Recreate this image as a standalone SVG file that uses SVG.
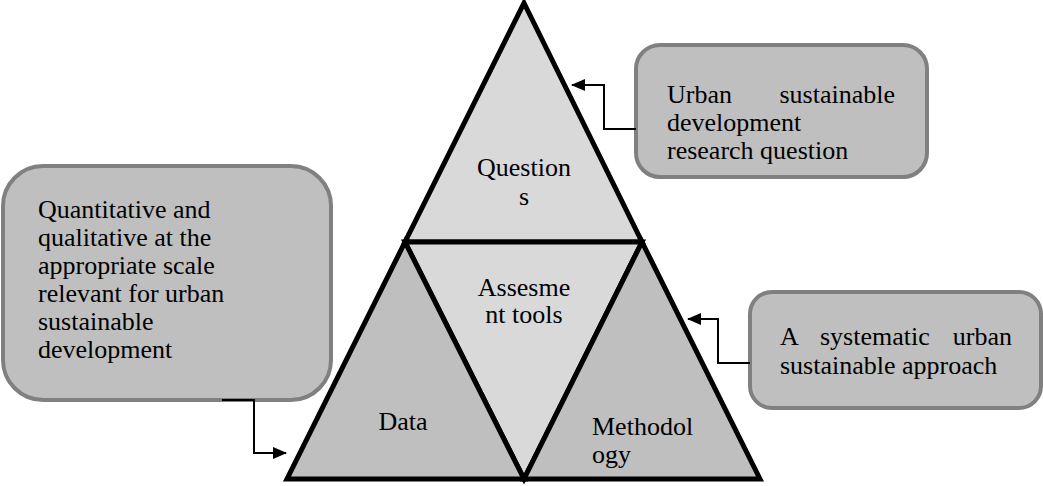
<svg xmlns="http://www.w3.org/2000/svg" width="1043" height="486" viewBox="0 0 1043 486">
<style>
.t{font-family:"Liberation Serif","Times New Roman",serif;font-size:26px;fill:#000}
.box{fill:#bfbfbf;stroke:#808080;stroke-width:4}
.tri{stroke:#000;stroke-width:5;stroke-linejoin:miter}
.light{fill:#d9d9d9}
.dark{fill:#bfbfbf}
.conn{fill:none;stroke:#000;stroke-width:2}
</style>
<defs>
<marker id="ah" markerWidth="14" markerHeight="12" refX="13" refY="6" orient="auto" markerUnits="userSpaceOnUse">
<path d="M0,0 L14,6 L0,12 Z" fill="#000"/>
</marker>
</defs>
<rect width="1043" height="486" fill="#fff"/>
<g id="triangle">
<g id="questions">
<polygon class="tri light" points="524,3 642,242 405,242"/>
<text class="t" text-anchor="middle" x="524" y="176">Question</text>
<text class="t" text-anchor="middle" x="524" y="205">s</text>
</g>
<g id="assessment">
<polygon class="tri light" points="405,242 642,242 524,479"/>
<text class="t" text-anchor="middle" x="524" y="296">Assesme</text>
<text class="t" text-anchor="middle" x="524" y="323">nt tools</text>
</g>
<g id="data">
<polygon class="tri dark" points="405,242 524,479 287,479"/>
<text class="t" text-anchor="middle" x="403" y="430">Data</text>
</g>
<g id="methodology">
<polygon class="tri dark" points="642,242 760,479 524,479"/>
<text class="t" x="592" y="435">Methodol</text>
<text class="t" x="592" y="463">ogy</text>
</g>
</g>
<g id="box-question">
<rect class="box" x="636" y="45" width="291" height="132" rx="24"/>
<text class="t" x="667" y="103">Urban</text>
<text class="t" x="895" y="103" text-anchor="end">sustainable</text>
<text class="t" x="667" y="131">development</text>
<text class="t" x="667" y="159">research question</text>
</g>
<g id="box-data">
<rect class="box" x="3" y="166" width="328" height="234" rx="40"/>
<text class="t" x="38" y="218">Quantitative and</text>
<text class="t" x="38" y="246">qualitative at the</text>
<text class="t" x="38" y="274">appropriate scale</text>
<text class="t" x="38" y="302">relevant for urban</text>
<text class="t" x="38" y="330">sustainable</text>
<text class="t" x="38" y="358">development</text>
</g>
<g id="box-method">
<rect class="box" x="750" y="292" width="291" height="116" rx="22"/>
<text class="t" x="780" y="345">A</text>
<text class="t" x="820" y="345">systematic</text>
<text class="t" x="1012" y="345" text-anchor="end">urban</text>
<text class="t" x="780" y="374">sustainable approach</text>
</g>
<g id="connectors">
<path class="conn" d="M636,129 H604 V85 H572" marker-end="url(#ah)"/>
<path class="conn" d="M222,400 H254 V453 H286" marker-end="url(#ah)"/>
<path class="conn" d="M750,363 H718 V319 H688" marker-end="url(#ah)"/>
</g>
</svg>
